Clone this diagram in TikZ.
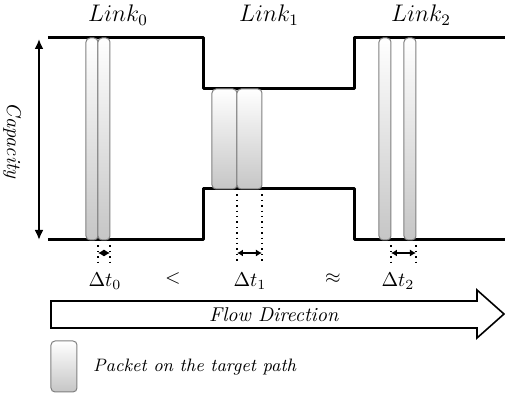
\documentclass[tikz,border=0pt]{standalone}
\usetikzlibrary{arrows.meta}
\begin{document}
\begin{tikzpicture}[x = 0.5pt, y = -0.5pt]
  \useasboundingbox (0, 0) rectangle (505, 399);
  \tikzset{
    packet/.style = {draw = gray, line width = .5pt, rounded corners = 2pt, top color = white, bottom color = gray!45},
    gap/.style = {dotted, line width = .7pt},
    span/.style = {{Latex[length = 3pt, width = 3.5pt]}-{Latex[length = 3pt, width = 3.5pt]}, line width = .8pt}
  }
  \def\hightop{38}
  \def\highbot{240}
  \def\lowtop{89}
  \def\lowbot{189}
  % walls of the three links
  \draw[line width = 1.5pt, line join = round] (48, \hightop) -- (204, \hightop) -- (204, \lowtop) -- (355, \lowtop) -- (355, \hightop) -- (505, \hightop);
  \draw[line width = 1.5pt, line join = round] (48, \highbot) -- (204, \highbot) -- (204, \lowbot) -- (355, \lowbot) -- (355, \highbot) -- (505, \highbot);
  % capacity
  \coordinate (captop) at (39, 39);
  \coordinate (capbot) at (39, 240);
  \draw[{Latex[length = 5pt, width = 4.5pt]}-{Latex[length = 5pt, width = 4.5pt]}, line width = 1pt] (captop) -- (capbot);
  \node[rotate = -90] (capacity) at (12, 141) {\textit{Capacity}};
  % packets
  \foreach \xa/\xb/\ya/\yb in {86/98/38/240, 98/110/38/240, 212/237/89/189, 237/262/89/189, 379/391/38/240, 404/416/38/240}
    \path[packet] (\xa, \ya) rectangle (\xb, \yb);
  % spacing between packets
  \foreach \xa/\xb/\ya in {98/110/240, 237/262/189, 391/416/240} {
    \draw[gap] (\xa, \ya) -- (\xa, 263);
    \draw[gap] (\xb, \ya) -- (\xb, 263);
    \coordinate (spanl) at (\xa, 253);
    \coordinate (spanr) at (\xb, 253);
    \draw[span] (spanl) -- (spanr);
  }
  \node[font = \large] (link0) at (118, 15) {$Link_0$};
  \node[font = \large] (link1) at (269, 15) {$Link_1$};
  \node[font = \large] (link2) at (421, 15) {$Link_2$};
  \node (dt0) at (105, 281) {$\Delta t_0$};
  \node (lt) at (173, 279) {$<$};
  \node (dt1) at (250, 281) {$\Delta t_1$};
  \node (approx) at (333, 279) {$\approx$};
  \node (dt2) at (398, 281) {$\Delta t_2$};
  % flow arrow
  \draw[line width = .8pt, fill = white] (51, 301) -- (477, 301) -- (477, 290) -- (504, 314) -- (477, 338) -- (477, 328) -- (51, 328) -- cycle;
  \node (flow) at (274, 315) {\textit{Flow Direction}};
  % legend
  \path[packet] (51, 341) rectangle (77, 392);
  \node[right] (legend) at (86, 367) {\small\textit{Packet on the target path}};
\end{tikzpicture}
\end{document}
